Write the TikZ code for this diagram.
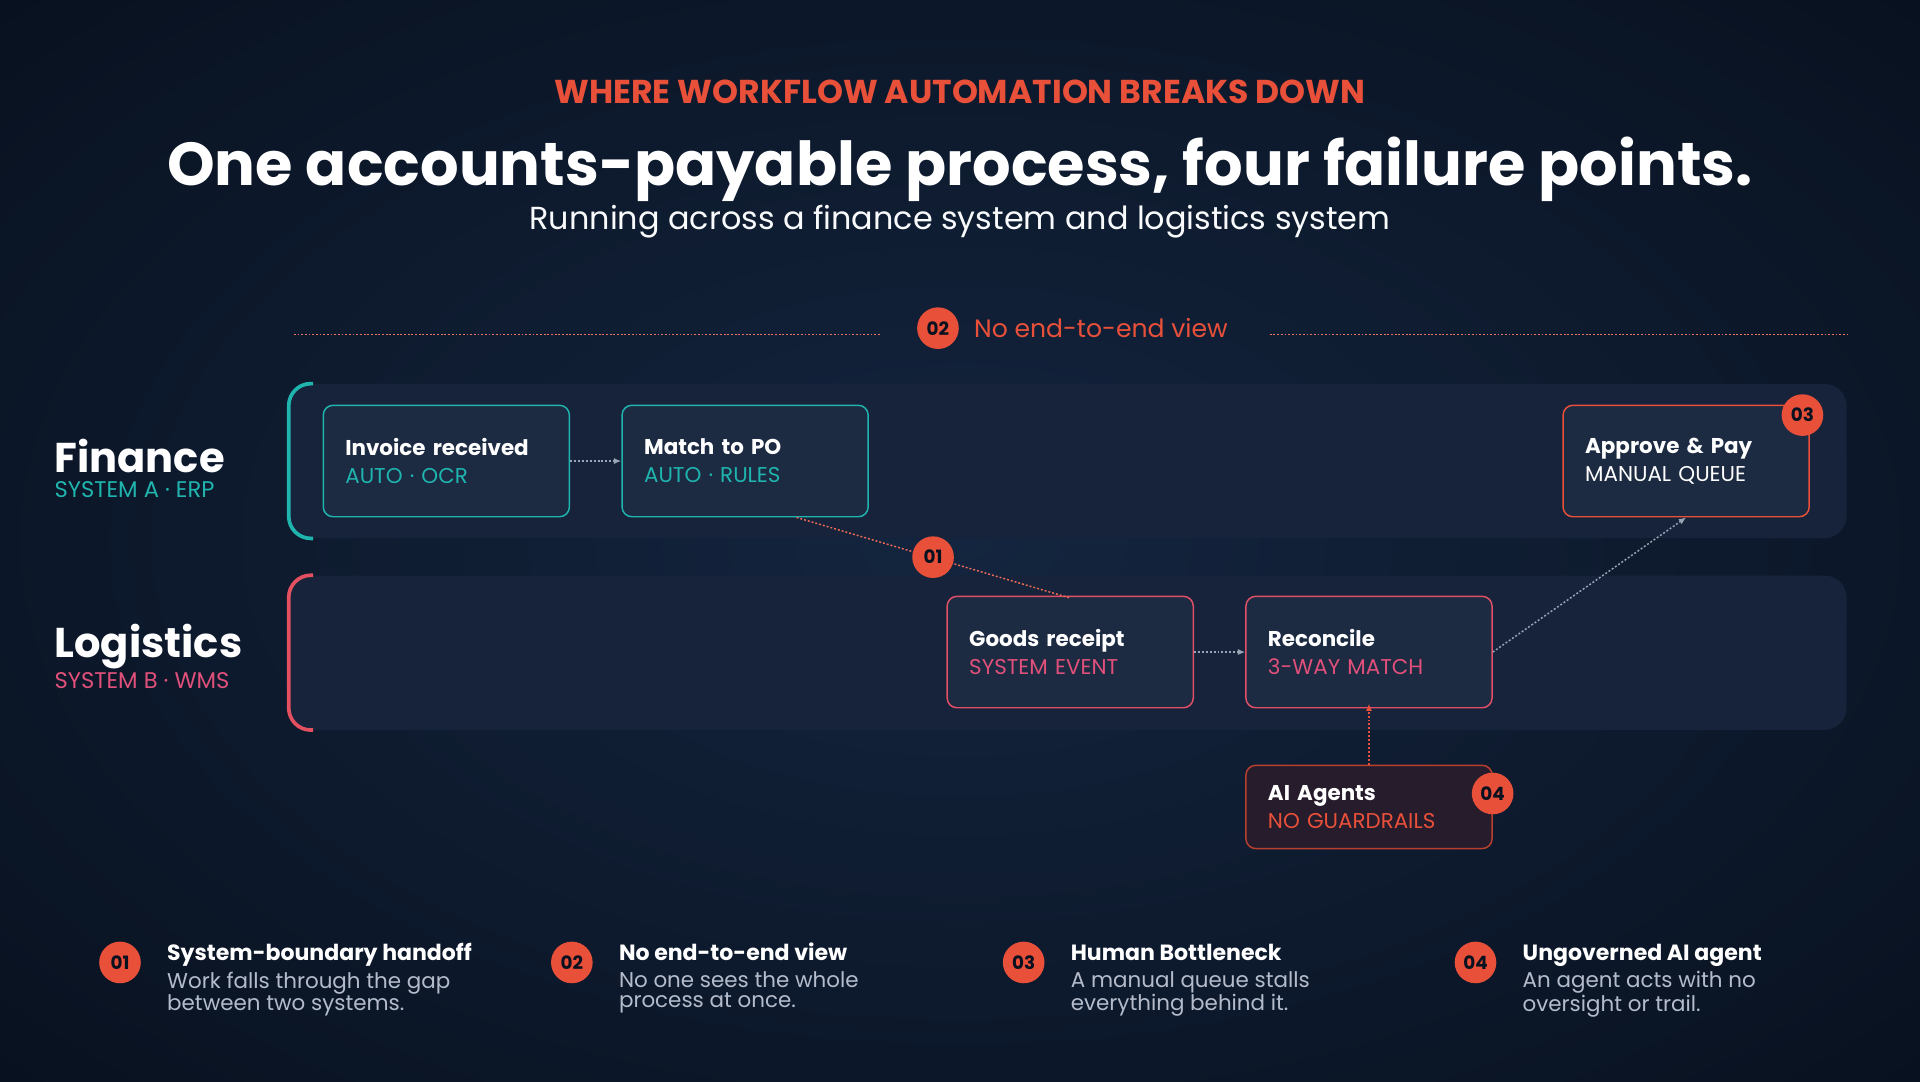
\documentclass[tikz,border=0pt]{standalone}
\usepackage{fontspec}
\setmainfont{Poppins}
\usetikzlibrary{arrows.meta,positioning,calc}
\definecolor{bgin}{HTML}{14253F}
\definecolor{bgout}{HTML}{08111F}
\definecolor{lanefill}{HTML}{16233A}
\definecolor{boxfill}{HTML}{1C2A42}
\definecolor{agentfill}{HTML}{261C2C}
\definecolor{alert}{HTML}{E8503A}
\definecolor{teal}{HTML}{1FB5AE}
\definecolor{pinkred}{HTML}{E0507A}
\definecolor{softgray}{HTML}{B4BCCB}
\definecolor{linkgray}{HTML}{9AA5B8}
\tikzset{
  lane/.style={fill=lanefill, rounded corners=18pt, minimum width=1272pt, minimum height=126pt, inner sep=0pt},
  apstep/.style={fill=boxfill, rounded corners=8pt, line width=1.2pt, minimum width=201pt, minimum height=91pt,
    text width=165pt, align=left, inner sep=0pt, text=white, font=\fontsize{17.5}{23}\selectfont},
  badge/.style={circle, fill=alert, minimum size=34pt, inner sep=0pt, text=bgout, font=\bfseries\fontsize{15}{15}\selectfont},
  flow/.style={line width=1.2pt, dash pattern=on 1.6pt off 1.6pt, -{Latex[length=6pt,width=5pt]}},
  legtitle/.style={anchor=base west, text=white, font=\bfseries\fontsize{18}{20}\selectfont},
  legtext/.style={anchor=north west, text=softgray, align=left, font=\fontsize{17.5}{16}\selectfont}
}
\begin{document}
\begin{tikzpicture}[x=1pt,y=-1pt]
\useasboundingbox (0,0) rectangle (1568,883);
\shade[inner color=bgin, outer color=bgout] (-300,-200) rectangle (1868,1083);
% headline
\node (kicker) at (784,75) {\color{alert}\bfseries\fontsize{27}{27}\selectfont WHERE WORKFLOW AUTOMATION BREAKS DOWN};
\node (title) at (784,138) {\color{white}\bfseries\fontsize{49.5}{50}\selectfont One accounts-payable process, four failure points.};
\node (subtitle) at (784,181) {\color{white!92!softgray}\fontsize{26}{26}\selectfont Running across a finance system and logistics system};
% no end-to-end view
\node[badge] (b2top) at (766,268) {02};
\node[anchor=west, text=alert, font=\fontsize{20.5}{21}\selectfont] (viewlbl) at (792,268) {No end-to-end view};
\coordinate (dl1) at (240,273);
\coordinate (dl2) at (720,273);
\coordinate (dr1) at (1037,273);
\coordinate (dr2) at (1510,273);
\draw[alert!80, line width=1pt, dash pattern=on 1.5pt off 1.5pt] (dl1) -- (dl2) (dr1) -- (dr2);
% lanes
\node[lane] (finlane) at (872,376.5) {};
\node[lane] (loglane) at (872,533) {};
\draw[teal, line width=3pt, rounded corners=18pt]
  ([xshift=20pt]finlane.north west) -- (finlane.north west) -- (finlane.south west) -- ([xshift=20pt]finlane.south west);
\draw[pinkred!60!alert, line width=3pt, rounded corners=18pt]
  ([xshift=20pt]loglane.north west) -- (loglane.north west) -- (loglane.south west) -- ([xshift=20pt]loglane.south west);
\node[anchor=west, text=white, font=\bfseries\fontsize{34}{34}\selectfont] (finname) at (41,372) {Finance};
\node[anchor=west, text=teal, font=\fontsize{18.5}{18}\selectfont] (finsys) at (41,400) {SYSTEM A · ERP};
\node[anchor=west, text=white, font=\bfseries\fontsize{34}{34}\selectfont] (logname) at (41,528) {Logistics};
\node[anchor=west, text=pinkred, font=\fontsize{18.5}{18}\selectfont] (logsys) at (41,556) {SYSTEM B · WMS};
% steps
\node[apstep, draw=teal] (invoice) at (364.5,376.5) {\textbf{Invoice received}\\{\color{teal}AUTO · OCR}};
\node[apstep, draw=teal] (match) at (608.5,376.5) {\textbf{Match to PO}\\{\color{teal}AUTO · RULES}};
\node[apstep, draw=alert] (approve) at (1377,376.5) {\textbf{Approve \& Pay}\\MANUAL QUEUE};
\node[apstep, draw=pinkred!70!alert] (goods) at (874,532.5) {\textbf{Goods receipt}\\{\color{pinkred}SYSTEM EVENT}};
\node[apstep, draw=pinkred!70!alert] (reconcile) at (1118,532.5) {\textbf{Reconcile}\\{\color{pinkred}3-WAY MATCH}};
\node[apstep, draw=alert!80!black, fill=agentfill, minimum height=68pt] (agents) at (1118,659) {\textbf{AI Agents}\\{\color{alert}NO GUARDRAILS}};
% connectors
\draw[flow, linkgray] (invoice) -- (match);
\draw[flow, linkgray] (goods) -- (reconcile);
\draw[flow, linkgray] (reconcile.east) -- (approve.south);
\draw[flow, alert] (agents.north) -- ([yshift=4pt]reconcile.south);
\draw[alert!85, line width=1.2pt, dash pattern=on 1.6pt off 1.6pt] ([xshift=42pt]match.south) -- ([yshift=-2pt]goods.north);
% badges
\node[badge] (b1) at (762,455) {01};
\node[badge] (b3) at (1472,339) {03};
\node[badge] (b4) at (1219,648) {04};
% legend
\foreach \x/\n/\head/\lineA/\lineB in {
  98/01/System-boundary handoff/Work falls through the gap/between two systems.,
  467/02/No end-to-end view/No one sees the whole/process at once.,
  836/03/Human Bottleneck/A manual queue stalls/everything behind it.,
  1205/04/Ungoverned AI agent/An agent acts with no/oversight or trail.}{
  \node[badge] (leg\n) at (\x,786) {\n};
  \node[legtitle] (legh\n) at (\x+35,784) {\head};
  \node[legtext] (legt\n) at (\x+35,790) {\lineA\\\lineB};
}
\end{tikzpicture}
\end{document}
